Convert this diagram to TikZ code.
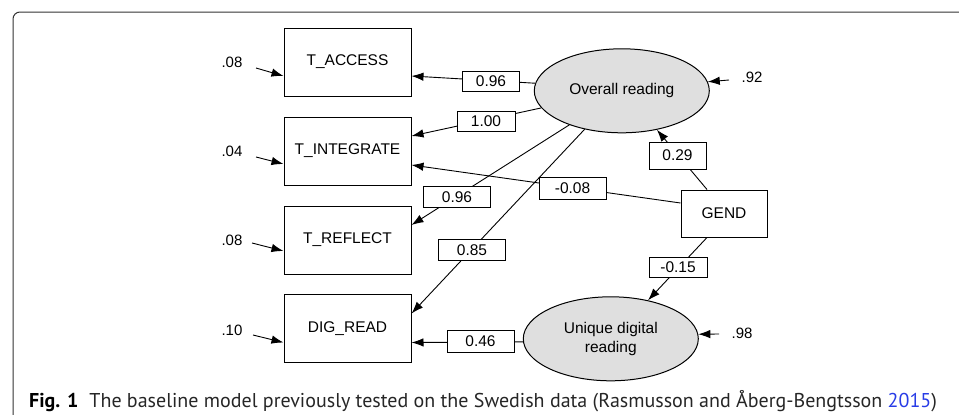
\documentclass[tikz,border=0pt]{standalone}
\usepackage{fontspec}
\setmainfont{Liberation Sans}
\newfontfamily\capfont{PT Sans}
\usetikzlibrary{arrows.meta,shapes.geometric,calc}
\definecolor{latentfill}{gray}{0.875}
\definecolor{linkblue}{RGB}{40,60,230}
\definecolor{framegray}{gray}{0.2}

\begin{document}
\begin{tikzpicture}[x=1pt,y=-1pt,
  every node/.style={font=\fontsize{15.5}{18.5}\selectfont},
  obs/.style={draw,line width=1pt,minimum width=127pt,minimum height=68pt,inner sep=0pt},
  lat/.style={draw,ellipse,fill=latentfill,line width=1pt,minimum width=175pt,minimum height=84pt,inner sep=0pt,align=center},
  coef/.style={draw,fill=white,line width=0.9pt,minimum width=57pt,minimum height=20pt,inner sep=0pt},
  wide/.style={minimum width=67pt,minimum height=21.5pt},
  link/.style={line width=0.9pt,-{Latex[length=12pt,width=8.5pt]}},
  resid/.style={font=\fontsize{15}{18}\selectfont}
]
\useasboundingbox (0,0) rectangle (959,415);

% page frame
\draw[framegray,line width=1pt,rounded corners=7pt] (13,415) -- (13,12) -- (959,12);

% observed indicators
\node[obs] (acc) at (347.5,62) {T\_ACCESS};
\node[obs] (int) at (347.5,151) {T\_INTEGRATE};
\node[obs] (ref) at (347.5,240) {T\_REFLECT};
\node[obs] (dig) at (347.5,328.5) {DIG\_READ};

% latent factors and covariate
\node[lat] (ovr) at (621.8,90.8) {Overall reading};
\node[lat] (udr) at (610.8,338.8) {Unique digital\\reading};
\node[draw,line width=1pt,minimum width=86pt,minimum height=47pt,inner sep=0pt] (gend) at (724,213.5) {GEND};

% loadings and regressions
\draw[link] (ovr.175.6) -- ([yshift=-14pt]acc.east);
\draw[link] (ovr.192.2) -- ([yshift=15pt]int.east);
\draw[link] (ovr.213.4) -- ([yshift=15pt]ref.east);
\draw[link] (ovr.226.8) -- ([yshift=15pt]dig.east);
\draw[link] ([yshift=10.5pt]gend.west) -- ([yshift=-14pt]int.east);
\draw[link] ([xshift=-17pt]gend.north) -- (ovr.312.8);
\draw[link] ([xshift=-17pt]gend.south) -- (udr.46.9);
\draw[link] (udr.182) -- ([yshift=-14pt]dig.east);

% residual arrows
\coordinate (ea) at (256,68);
\coordinate (ei) at (256,157);
\coordinate (er) at (252,243);
\coordinate (ed) at (253,335);
\coordinate (eo) at (729,80);
\coordinate (eu) at (719,334);
\draw[link] (ea) -- ([yshift=-14pt]acc.west);
\draw[link] (ei) -- ([yshift=-13pt]int.west);
\draw[link] (er) -- ([yshift=-11pt]ref.west);
\draw[link] (ed) -- ([yshift=-14pt]dig.west);
\draw[link] (eo) -- (ovr.6.4);
\draw[link] (eu) -- (udr.3.1);

% coefficient labels
\node[coef] (c1) at (491,81) {0.96};
\node[coef,minimum width=58pt] (c2) at (486,121) {1.00};
\node[coef,wide] (c3) at (457,197) {0.96};
\node[coef,wide] (c4) at (472,250) {0.85};
\node[coef,wide] (c5) at (572.5,188.5) {-0.08};
\node[coef,minimum height=27pt] (c6) at (677.5,155.5) {0.29};
\node[coef,minimum width=58pt] (c7) at (678,267) {-0.15};
\node[coef,wide] (c8) at (480.5,341.2) {0.46};

% residual variances
\node[resid] (v1) at (232,62) {.08};
\node[resid] (v2) at (232,151) {.04};
\node[resid] (v3) at (232,240) {.08};
\node[resid] (v4) at (232,330) {.10};
\node[resid] (v5) at (752,77) {.92};
\node[resid] (v6) at (742,333) {.98};

% caption
\node[anchor=base west,inner sep=0pt,font=\capfont\fontsize{20}{23}\selectfont,text=black!85] (cap) at (29,407)
  {\textcolor{black}{\textbf{Fig. 1}}\hspace{0.55em}The baseline model previously tested on the Swedish data (Rasmusson and Åberg-Bengtsson \textcolor{linkblue}{2015})};
\end{tikzpicture}
\end{document}
